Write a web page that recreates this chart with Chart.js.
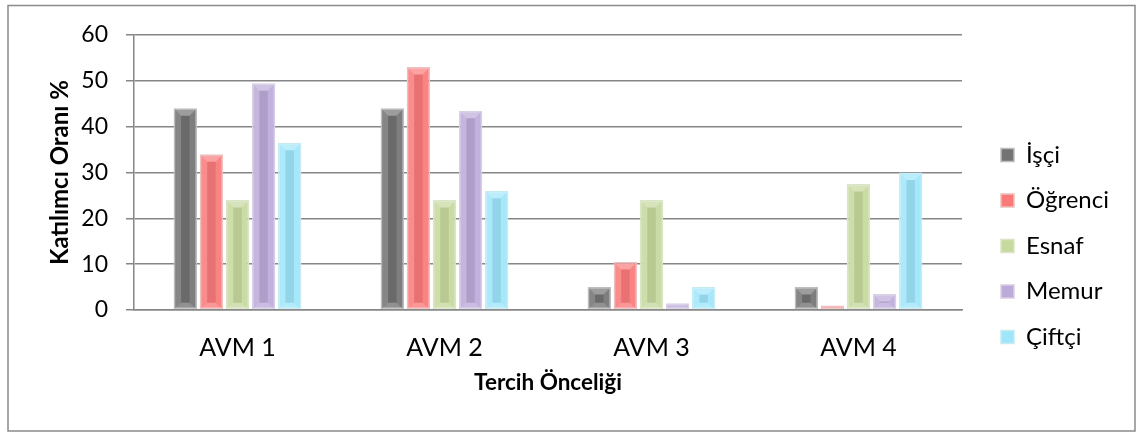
<!DOCTYPE html>
<html>
<head>
<meta charset="utf-8">
<script src="https://cdn.jsdelivr.net/npm/chart.js@4.4.1/dist/chart.umd.min.js"></script>
<style>
  html, body { margin: 0; padding: 0; background: #ffffff; }
  #wrap { position: relative; width: 1137px; height: 433px; }
</style>
</head>
<body>
<div id="wrap"><canvas id="c" width="1137" height="433"></canvas></div>
<script>
// ---- data ----
const categories = ['AVM 1', 'AVM 2', 'AVM 3', 'AVM 4'];
const seriesNames = ['İşçi', 'Öğrenci', 'Esnaf', 'Memur', 'Çiftçi'];
const isci    = [44, 44, 5, 5];
const ogrenci = [34, 53, 10.5, 1];
const esnaf   = [24, 24, 24, 27.5];
const memur   = [49.5, 43.5, 1.5, 3.5];
const ciftci  = [36.5, 26, 5, 30];
const yTicks  = [0, 10, 20, 30, 40, 50, 60];
const yTitle = 'Katılımcı Oranı %';
const xTitle = 'Tercih Önceliği';

// ---- styles ----
const colors  = ['#737373', '#fa7a7a', '#c6d99e', '#bcabd9', '#9fe6fa'];
const edges   = ['#bdbdbd', '#ecc0c0', '#dbe3c9', '#d8d0e5', '#c8eaf2'];
const FONT = 'Lato, "Open Sans", "Liberation Sans", sans-serif';
const axisGray = '#868686';

const seriesValues = [isci, ogrenci, esnaf, memur, ciftci];
const datasets = seriesNames.map((name, i) => ({
  label: name,
  data: seriesValues[i],
  backgroundColor: colors[i],
  borderColor: edges[i],
  borderWidth: 1.5,
  borderSkipped: false,
  barPercentage: 0.9,
  categoryPercentage: 0.63
}));

const frame = {
  id: 'frame',
  beforeDraw(chart) {
    const ctx = chart.ctx;
    ctx.save();
    ctx.fillStyle = '#ffffff';
    ctx.fillRect(0, 0, chart.width, chart.height);
    ctx.strokeStyle = '#8a8a8a';
    ctx.lineWidth = 1.5;
    ctx.strokeRect(8, 5.5, 1127, 425.5);
    ctx.restore();
  }
};

const bevel = {
  id: 'bevel',
  afterDatasetsDraw(chart) {
    const ctx = chart.ctx;
    ctx.save();
    chart.data.datasets.forEach((ds, di) => {
      const meta = chart.getDatasetMeta(di);
      meta.data.forEach(el => {
        const p = el.getProps(['x', 'y', 'base', 'width'], true);
        const l = p.x - p.width / 2 + 1.5, r = p.x + p.width / 2 - 1.5;
        const t = Math.min(p.y, p.base) + 1.5, b = Math.max(p.y, p.base) - 0.5;
        const w = r - l, h = b - t;
        if (w <= 0 || h <= 0) return;
        const bv = Math.min(6, w / 2, h / 2);
        const poly = (pts, fill) => {
          ctx.beginPath();
          ctx.moveTo(pts[0][0], pts[0][1]);
          for (let k = 1; k < pts.length; k++) ctx.lineTo(pts[k][0], pts[k][1]);
          ctx.closePath();
          ctx.fillStyle = fill;
          ctx.fill();
        };
        poly([[l, t], [r, t], [r - bv, t + bv], [l + bv, t + bv]], 'rgba(255,255,255,0.30)');
        poly([[l, t], [l + bv, t + bv], [l + bv, b - bv], [l, b]], 'rgba(255,255,255,0.14)');
        poly([[r, t], [r - bv, t + bv], [r - bv, b - bv], [r, b]], 'rgba(255,255,255,0.08)');
        poly([[l, b], [r, b], [r - bv, b - bv], [l + bv, b - bv]], 'rgba(255,255,255,0.22)');
        if (w > 2 * bv && h > 2 * bv) {
          ctx.fillStyle = 'rgba(0,0,0,0.07)';
          ctx.fillRect(l + bv, t + bv, w - 2 * bv, h - 2 * bv);
        }
      });
    });
    ctx.restore();
  }
};

const legendPlace = {
  id: 'legendPlace',
  afterLayout(chart) {
    const lg = chart.legend;
    if (!lg) return;
    lg.left = 979.5;
    lg.right = 1137;
    lg.top = 121.5;
    lg.bottom = 433;
  }
};

const chart = new Chart(document.getElementById('c'), {
  type: 'bar',
  data: { labels: categories, datasets },
  plugins: [frame, bevel, legendPlace],
  options: {
    responsive: false,
    animation: false,
    devicePixelRatio: 1,
    layout: { padding: { left: 45.6, top: 35, right: 0, bottom: 36.8 } },
    plugins: {
      tooltip: { enabled: false },
      legend: {
        display: true,
        position: 'right',
        align: 'start',
        labels: {
          boxWidth: 13,
          boxHeight: 13,
          padding: 21.5,
          color: '#000000',
          font: { family: FONT, size: 24 }
        }
      }
    },
    scales: {
      x: {
        offset: true,
        grid: { display: false, drawTicks: false },
        border: { display: true, color: axisGray, width: 1.5 },
        ticks: { color: '#000000', padding: 23, font: { family: FONT, size: 25 } },
        title: { display: true, text: xTitle, color: '#000000', padding: 0,
                 font: { family: FONT, size: 22.5, weight: 'bold' } },
        afterFit(s) { s.height = 86.2; }
      },
      y: {
        min: 0,
        max: 60,
        afterBuildTicks(s) { s.ticks = yTicks.map(v => ({ value: v })); },
        grid: { color: axisGray, lineWidth: 1.5, tickLength: 8, drawTicks: true },
        border: { display: true, color: axisGray, width: 1.5 },
        ticks: { color: '#000000', padding: 18, font: { family: FONT, size: 23 } },
        title: { display: true, text: yTitle, color: '#000000', padding: 0,
                 font: { family: FONT, size: 24, weight: 'bold' } },
        afterFit(s) { s.width = 88.4; }
      }
    }
  }
});

const lg = chart.legend;
if (lg) {
  const origFit = lg.fit.bind(lg);
  lg.fit = function () { origFit(); this.width = 175; };
  chart.update('none');
}
</script>
</body>
</html>
